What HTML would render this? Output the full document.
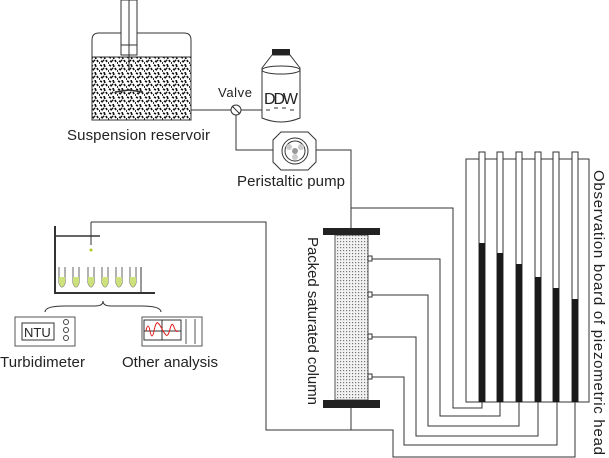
<!DOCTYPE html>
<html><head><meta charset="utf-8"><style>
html,body{margin:0;padding:0;background:#fff}
svg{display:block}
text{font-family:"Liberation Sans",Arial,sans-serif;fill:#222}
</style></head><body>
<svg width="609" height="458" viewBox="0 0 609 458" xmlns="http://www.w3.org/2000/svg">
<defs>
<pattern id="sp" width="9" height="8" patternUnits="userSpaceOnUse">
<rect width="9" height="8" fill="#fff"/>
<path d="M1 1l2 1M5 0l1 3M7 4l1 2M2 5l2 1M0 7l1 0M4 4l1 1" stroke="#111" stroke-width="1.7"/>
</pattern>
<pattern id="dots" width="3" height="3" patternUnits="userSpaceOnUse">
<rect width="3" height="3" fill="#f2f2f2"/><rect x="1" y="1" width="1.2" height="1.2" fill="#777"/>
</pattern>
</defs>
<g fill="none" stroke="#333" stroke-width="1">
<!-- reservoir -->
<path d="M92 120V40q0-7 7-7h22"/>
<path d="M137 33h47q7 0 7 7v80"/>
<rect x="92" y="57" width="99" height="63" fill="url(#sp)" stroke="#333"/>
<rect x="121" y="0" width="16" height="55" fill="#fff"/>
<line x1="129" y1="0" x2="129" y2="70"/>
<line x1="121" y1="45" x2="137" y2="45"/>
<path d="M115 92l14 -2 14 2" stroke-width="1.5"/>
<!-- pipes -->
<line x1="191" y1="110" x2="231" y2="110"/>
<line x1="241" y1="110" x2="262" y2="110"/>
<circle cx="236" cy="110" r="5" fill="#fff"/>
<line x1="232" y1="106" x2="240" y2="114"/>
<path d="M236 115V150H273"/>
<path d="M316 150H351V228"/>
<!-- bottle -->
<path d="M272 55L262 68V118q19 8 38 0V68L290 55z" fill="#fff"/>
<ellipse cx="281" cy="70" rx="19" ry="4"/>
<path d="M266 110h4M274 108h4M282 108h4M290 110h4"/>
<!-- pump -->
<path d="M281 132h27l8 8v22l-8 8h-27l-8-8v-22z" fill="#fff"/>
<circle cx="295" cy="151" r="13"/>
<circle cx="295" cy="151" r="10"/>
<!-- column connections -->
<path d="M351 208H453V408H482V401"/>
<path d="M371 259H440V416H500V401"/>
<path d="M371 295H428V426H519V401"/>
<path d="M371 337H416V436H538V401"/>
<path d="M371 377H404V445H557V401"/>
<path d="M351 408V430"/>
<path d="M91 222H266V430H393V457H575V401"/>
<!-- board -->
<rect x="466" y="159" width="123" height="243"/>
</g>
<circle cx="295" cy="151" r="3" fill="#999"/>
<g fill="#ccc"><circle cx="289" cy="147" r="3"/><circle cx="301" cy="147" r="3"/><circle cx="295" cy="157" r="3"/></g>
<rect x="272" y="49" width="18" height="6" fill="#222"/>
<text x="264" y="104" font-size="16" textLength="34">DDW</text>
<text x="218" y="97" font-size="13" textLength="34">Valve</text>
<text x="67" y="140" font-size="15" textLength="143">Suspension reservoir</text>
<text x="237" y="186" font-size="15" textLength="108">Peristaltic pump</text>
<!-- column -->
<rect x="335" y="235" width="33" height="165" fill="url(#dots)" stroke="#555"/>
<rect x="323" y="228" width="57" height="7" fill="#222"/>
<rect x="323" y="400" width="57" height="8" fill="#222"/>
<g fill="#fff" stroke="#333"><rect x="368" y="256" width="4" height="5"/><rect x="368" y="292" width="4" height="5"/><rect x="368" y="334" width="4" height="5"/><rect x="368" y="374" width="4" height="5"/></g>
<text transform="translate(308,237) rotate(90)" font-size="15" textLength="168">Packed saturated column</text>
<!-- tubes -->
<g stroke="#333" fill="#fff">
<rect x="479" y="152" width="6" height="250"/><rect x="497" y="152" width="6" height="250"/><rect x="516" y="152" width="6" height="250"/><rect x="535" y="152" width="6" height="250"/><rect x="553" y="152" width="6" height="250"/><rect x="572" y="152" width="6" height="250"/>
</g>
<g fill="#1a1a1a">
<rect x="479" y="243" width="6" height="159"/><rect x="497" y="253" width="6" height="149"/><rect x="516" y="264" width="6" height="138"/><rect x="535" y="277" width="6" height="125"/><rect x="553" y="288" width="6" height="114"/><rect x="572" y="299" width="6" height="103"/>
</g>
<text transform="translate(594,170) rotate(90)" font-size="15" textLength="285">Observation board of piezometric head</text>
<!-- sample rack -->
<g fill="none" stroke="#333">
<path d="M55 226V293H155" stroke-width="2"/>
<path d="M55 236H100" stroke-width="1.5"/>
<line x1="91" y1="222" x2="91" y2="245"/>
<line x1="141" y1="267" x2="141" y2="293"/>
<path d="M45 312q0-6 20-6h30q8 0 8-5q0 5 8 5h30q20 0 20 6"/>
</g>
<circle cx="91" cy="250" r="1.5" fill="#aacc22"/>
<g stroke="#666" fill="#fff">
<path d="M59 267v16q3 8 6 0v-16M73 267v16q3 8 6 0v-16M88 267v16q3 8 6 0v-16M102 267v16q3 8 6 0v-16M116 267v16q3 8 6 0v-16M130 267v16q3 8 6 0v-16"/>
</g>
<g fill="#cde27a">
<path d="M59 277h6v6q-3 8-6 0zM73 277h6v6q-3 8-6 0zM88 277h6v6q-3 8-6 0zM102 277h6v6q-3 8-6 0zM116 277h6v6q-3 8-6 0zM130 277h6v6q-3 8-6 0z"/>
</g>
<!-- turbidimeter -->
<rect x="15" y="317" width="60" height="29" fill="#fff" stroke="#555"/>
<rect x="22" y="323" width="32" height="17" fill="#fff" stroke="#333"/>
<text x="24" y="337" font-size="13">NTU</text>
<g fill="none" stroke="#444"><circle cx="66" cy="322" r="2.5"/><circle cx="66" cy="330" r="2.5"/><circle cx="66" cy="338" r="2.5"/></g>
<!-- other analysis -->
<rect x="142" y="317" width="60" height="29" fill="#fff" stroke="#555"/>
<rect x="144" y="320" width="37" height="20" fill="#fff" stroke="#333"/>
<line x1="162" y1="320" x2="162" y2="340" stroke="#333"/>
<line x1="144" y1="331" x2="181" y2="331" stroke="#333"/>
<path d="M146 331q2-10 4 0t4 0 4-8 4 6 4 6 4-6 4-2 4 4" stroke="#e02020" fill="none"/>
<line x1="186" y1="319" x2="186" y2="344" stroke="#555"/>
<line x1="195" y1="319" x2="195" y2="344" stroke="#555"/>
<text x="0" y="367" font-size="15" textLength="85">Turbidimeter</text>
<text x="122" y="367" font-size="15" textLength="96">Other analysis</text>
</svg>
</body></html>
